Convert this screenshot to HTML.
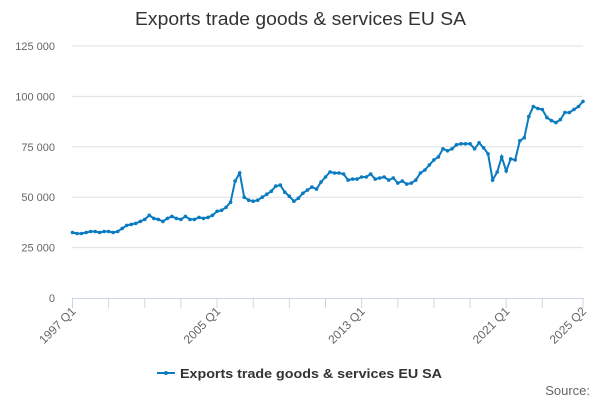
<!DOCTYPE html><html><head><style>body{margin:0;background:#fff;font-family:"Liberation Sans","DejaVu Sans",sans-serif}</style></head><body>
<svg id="s" width="600" height="400" xmlns="http://www.w3.org/2000/svg" font-family="Liberation Sans, DejaVu Sans, sans-serif">
<text x="135" y="25" font-size="18" fill="#333" textLength="331" lengthAdjust="spacingAndGlyphs">Exports trade goods &amp; services EU SA</text>
<g id="g"></g>
<g stroke="#0b7bc1" stroke-width="2"><line x1="157" y1="373" x2="175" y2="373"/></g>
<circle cx="166" cy="373" r="2" fill="#0b7bc1"/>
<text x="180" y="378" font-size="13" font-weight="bold" fill="#333" textLength="262" lengthAdjust="spacingAndGlyphs">Exports trade goods &amp; services EU SA</text>
<text x="590" y="395" text-anchor="end" font-size="13" fill="#666">Source:</text>
</svg>
<script>
var v=[32.5,32,32,32.5,33,33,32.5,33,33,32.5,33,34.5,36,36.5,37,38,39,41,39.5,39,38,39.5,40.5,39.5,39,40.5,39,39,40,39.5,40,41,43,43.5,45,47.5,58,62,50,48.5,48,48.5,50,51.5,53,55.5,56,52.5,50.5,48,49.5,52,53.5,55,54,57.5,60,62.5,62,62,61.5,58.5,59,59,60,60,61.5,59,59.5,60,58.5,59.5,57,58,56.5,57,58.5,62,63.5,66,68.5,70,74,73,74,76,76.5,76.5,76.5,74,77,74.5,71.5,58.5,62.5,70,63,69,68.5,78,79.5,90,95,94,93.5,89.5,88,87,88.5,92,92,93.5,95,97.5];
var x0=72.5,dx=(583-72.5)/113,y=function(k){return 298-k*252/125};
var h='';
for(var i=0;i<=5;i++){var yy=298-i*50.4;
 if(i>0)h+='<line x1="72" x2="583" y1="'+yy+'" y2="'+yy+'" stroke="#e0e0e0"/>';
 h+='<text x="55" y="'+(yy+4)+'" text-anchor="end" font-size="11" fill="#666">'+(i==0?'0':(i*25)+' 000')+'</text>';}
h+='<line x1="72" x2="584" y1="298.5" y2="298.5" stroke="#ccd6eb"/>';
var t=[0,8,16,24,32,40,48,56,64,72,80,88,96,104,113];
t.forEach(function(q){var xx=x0+q*dx;h+='<line x1="'+xx+'" x2="'+xx+'" y1="298" y2="308" stroke="#ccd6eb"/>';});
[[0,'1997 Q1'],[32,'2005 Q1'],[64,'2013 Q1'],[96,'2021 Q1'],[113,'2025 Q2']].forEach(function(a){var xx=x0+a[0]*dx+4;h+='<text transform="translate('+xx+',312) rotate(-45)" text-anchor="end" font-size="12" fill="#666">'+a[1]+'</text>';});
var p=v.map(function(k,i){return (x0+i*dx).toFixed(1)+','+y(k).toFixed(1)}).join(' ');
h+='<polyline points="'+p+'" fill="none" stroke="#0b7bc1" stroke-width="2"/>';
v.forEach(function(k,i){h+='<circle cx="'+(x0+i*dx).toFixed(1)+'" cy="'+y(k).toFixed(1)+'" r="1.8" fill="#0b7bc1"/>';});
document.getElementById('g').innerHTML=h;
</script>
</body></html>
